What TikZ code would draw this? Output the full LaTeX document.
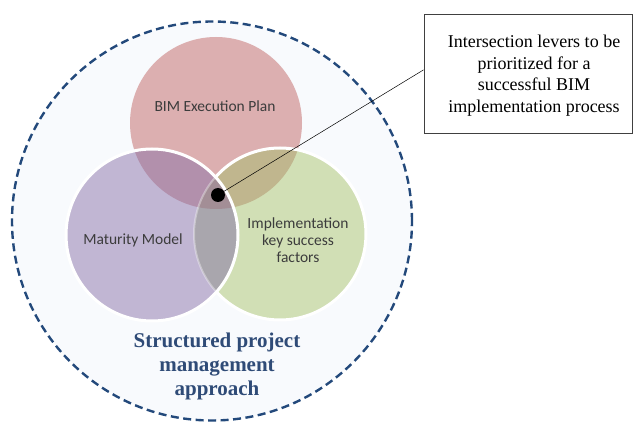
\documentclass[tikz,border=0pt]{standalone}
\usepackage{fontspec}
\setmainfont{Liberation Serif}
\newfontfamily\calibri{Carlito}
\definecolor{bgin}{HTML}{F8FAFD}
\definecolor{navy}{HTML}{23497B}
\definecolor{redc}{HTML}{DCAFB0}
\definecolor{purc}{HTML}{C1B6D3}
\definecolor{greenc}{HTML}{D1DFB5}
\definecolor{rpc}{HTML}{B290AC}
\definecolor{rgc}{HTML}{C0B68E}
\definecolor{pgc}{HTML}{A9A6AD}
\definecolor{rpgc}{HTML}{A38E96}
\definecolor{titleblue}{HTML}{2F4B77}
\definecolor{circtxt}{HTML}{3C3C3C}
\tikzset{
  outerring/.style={draw=navy, fill=bgin, line width=2.4pt, dash pattern=on 8pt off 4.5pt},
  whiteedge/.style={draw=white, line width=3pt},
  circtext/.style={font=\calibri\fontsize{15.5}{17.3}\selectfont, text=circtxt, align=center, inner sep=0pt},
  boxstyle/.style={draw=black!75, line width=0.9pt, minimum width=208pt, minimum height=119pt, inner sep=0pt},
  boxtext/.style={font=\fontsize{18}{21.5}\selectfont, align=center, inner sep=0pt},
  titletext/.style={font=\bfseries\fontsize{21}{24}\selectfont, text=titleblue, align=center, inner sep=0pt},
}
\begin{document}
\begin{tikzpicture}[x=1pt,y=-1pt]
\useasboundingbox (0,0) rectangle (633,422);
\def\R{86pt}
\coordinate (co) at (212,221);
\coordinate (cr) at (216,123);
\coordinate (cp) at (152,235);
\coordinate (cg) at (280,234);
% outer dashed ring
\path[outerring] (co) ellipse [x radius=200pt, y radius=199.5pt];
% red circle
\fill[redc] (cr) circle[radius=\R];
% green circle
\fill[greenc] (cg) circle[radius=\R];
\begin{scope}
  \clip (cr) circle[radius=\R];
  \fill[rgc] (cg) circle[radius=\R];
\end{scope}
\draw[whiteedge] (cg) circle[radius=\R];
% purple circle
\fill[purc] (cp) circle[radius=\R];
\begin{scope}
  \clip (cp) circle[radius=\R];
  \fill[rpc] (cr) circle[radius=\R];
  \fill[pgc] (cg) circle[radius=\R];
  \clip (cr) circle[radius=\R];
  \fill[rpgc] (cg) circle[radius=\R];
\end{scope}
\begin{scope}
  \clip (cp) circle[radius=\R];
  \draw[white, opacity=0.35, line width=2pt] (cg) circle[radius=\R];
\end{scope}
\draw[whiteedge] (cp) circle[radius=\R];
% labels
\node[circtext] (bept) at (215,106) {BIM Execution Plan};
\node[circtext] (mmt) at (133,240) {Maturity Model};
\node[circtext] (iksft) at (298,240) {Implementation\\key success\\factors};
\node[titletext] (spma) at (217,366) {Structured project\\management\\approach};
% callout
\node[boxstyle] (box) at (528,73.5) {};
\node[boxtext] (boxt) at (534,75.5) {Intersection levers to be\\prioritized for a\\successful BIM\\implementation process};
\node[circle, fill=black, minimum size=14pt, inner sep=0pt] (dot) at (218,195) {};
\draw[line width=0.5pt] (dot) -- (box.178.6);
\end{tikzpicture}
\end{document}
